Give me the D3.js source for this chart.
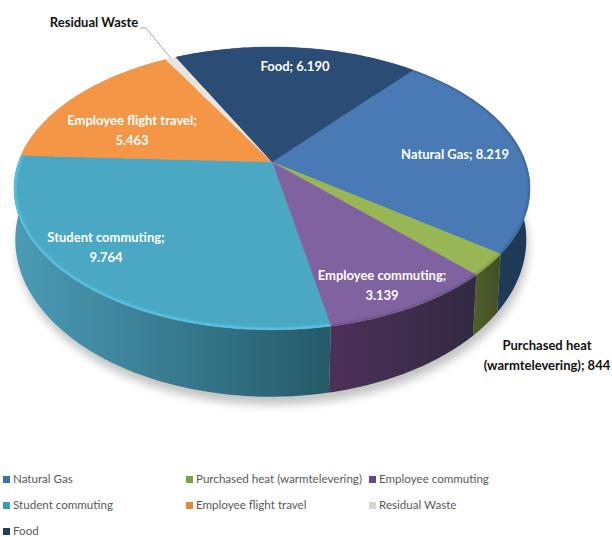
<!DOCTYPE html>
<html><head><meta charset="utf-8">
<style>html,body{margin:0;padding:0;background:#fff}svg{display:block}text{font-family:Lato,"Open Sans",sans-serif}</style>
<script src="https://cdnjs.cloudflare.com/ajax/libs/d3/7.8.5/d3.min.js"></script>
</head><body><svg id="c" width="612" height="537"></svg>
<script>
const categories = ["Natural Gas","Purchased heat (warmtelevering)","Employee commuting","Student commuting","Employee flight travel","Residual Waste","Food"];
const values = [8219,844,3139,9764,5463,280,6190];
const topColors = ["#4a7ab6","#98b654","#8062a0","#4aa8c5","#f49645","#e8e6dc","#2b4c74"];
const wallFrom = ["#1f3a56","#4c5e2a","#4c3058","#4a9ab5","#c47a35","#bdbbb0","#1e3652"];
const wallTo = ["#1f3a56","#434f26","#322a42","#255a68","#c47a35","#bdbbb0","#1e3652"];
const legendColors = ["#3f6fa8","#7fa040","#63478a","#3b9cb8","#e58a34","#d8d6cc","#24405f"];
const labelLines = [["Natural Gas; {v}"],["Purchased heat","(warmtelevering); {v}"],["Employee commuting;","{v}"],["Student commuting;","{v}"],["Employee flight travel;","{v}"],["Residual Waste"],["Food; {v}"]];

// layout
const labelPos = [[455,155],[547,346],[382,276],[106,238],[132,121],[94,23],[295,67]];
const labelFill = ["#fff","#111","#fff","#fff","#fff","#111","#fff"];
const legendPos = [[3,479],[186,479],[369,479],[3,505],[186,505],[369,505],[3,531]];
const apex = [272,162], aX = 253.5, bY = 136.5, k = -0.187, startDeg = 39.5;
const fmt = d3.formatLocale({decimal:",",thousands:".",grouping:[3],currency:["",""]}).format(",d");

const svg = d3.select("#c"), defs = svg.append("defs");
const pie = d3.pie().sort(null).value(d=>d).startAngle(startDeg*Math.PI/180).endAngle((startDeg+360)*Math.PI/180);
const arcs = pie(values);

// perspective projection of the pie's disc onto the page
function P(a){const sx=Math.sin(a),down=-Math.cos(a),t=1+k*down;return [apex[0]+aX*sx/t,apex[1]+bY*down/t];}
function Q(a){const p=P(a);return [p[0]*0.99+1.5,p[1]*1.11+30.5];}
const line = d3.line();
function samples(a0,a1){return d3.range(0,61).map(i=>a0+(a1-a0)*i/60);}

// filters
const f1=defs.append("filter").attr("id","blur6").attr("x","-10%").attr("y","-10%").attr("width","120%").attr("height","130%");
f1.append("feGaussianBlur").attr("stdDeviation",5);
const f2=defs.append("filter").attr("id","blur1").attr("x","-5%").attr("y","-5%").attr("width","110%").attr("height","110%");
f2.append("feGaussianBlur").attr("stdDeviation",1.2);

// shadow
const bottomRing = samples(0,2*Math.PI).map(Q);
svg.append("path").attr("d",line(bottomRing)+"Z").attr("transform","translate(2,8)").attr("fill","#000").attr("opacity",0.24).attr("filter","url(#blur6)");

// walls: gradients run left to right across each slice's front
arcs.forEach((d,i)=>{
  const xs=[P(d.startAngle)[0],P(d.endAngle)[0]];
  const g=defs.append("linearGradient").attr("id","w"+i).attr("gradientUnits","userSpaceOnUse")
    .attr("x1",d3.min(xs)).attr("x2",d3.max(xs)).attr("y1",0).attr("y2",0);
  g.append("stop").attr("offset",0).attr("stop-color",wallFrom[i]);
  g.append("stop").attr("offset",1).attr("stop-color",wallTo[i]);
});
arcs.forEach((d,i)=>{
  const s=samples(d.startAngle,d.endAngle);
  const pts=s.map(P).concat(s.slice().reverse().map(Q));
  svg.append("path").attr("d",line(pts)+"Z").attr("fill",`url(#w${i})`);
});

// top faces
const faces=svg.append("g");
arcs.forEach((d,i)=>{
  const pts=[apex].concat(samples(d.startAngle,d.endAngle).map(P));
  faces.append("path").attr("d",line(pts)+"Z").attr("fill",topColors[i]).attr("stroke",topColors[i]).attr("stroke-width",0.4);
});

// bevel on the disc rim
const clip=defs.append("clipPath").attr("id","disc");
clip.append("path").attr("d",line(samples(0,2*Math.PI).map(P))+"Z");
const bevel=svg.append("g").attr("clip-path","url(#disc)");
bevel.append("path").attr("d",line(samples(arcs[3].startAngle,arcs[3].endAngle).map(P))).attr("fill","none").attr("stroke","#5cc8e8").attr("stroke-width",4).attr("filter","url(#blur1)");
bevel.append("path").attr("d",line(samples(arcs[0].startAngle,arcs[2].endAngle).map(P))).attr("fill","none").attr("stroke","#000").attr("stroke-opacity",0.18).attr("stroke-width",3).attr("filter","url(#blur1)");

// leader line
svg.append("path").attr("d",line([[140,28],[146,28],P((arcs[5].startAngle+arcs[5].endAngle)/2)])).attr("fill","none").attr("stroke","#a6a6a6").attr("stroke-width",1);

// labels
categories.forEach((c,i)=>{
  const t=svg.append("text").attr("text-anchor","middle").attr("font-size",13).attr("font-weight",700).attr("fill",labelFill[i]);
  labelLines[i].forEach((l,j)=>{
    t.append("tspan").attr("x",labelPos[i][0]).attr("y",labelPos[i][1]+4+j*19.5).text(l.replace("{v}",fmt(values[i])));
  });
});

// legend
categories.forEach((c,i)=>{
  const [x,y]=legendPos[i];
  svg.append("rect").attr("x",x).attr("y",y-3).attr("width",7).attr("height",7).attr("fill",legendColors[i]);
  svg.append("text").attr("x",x+10).attr("y",y+3.5).attr("font-size",11.6).attr("fill","#595959").text(c);
});
</script></body></html>
